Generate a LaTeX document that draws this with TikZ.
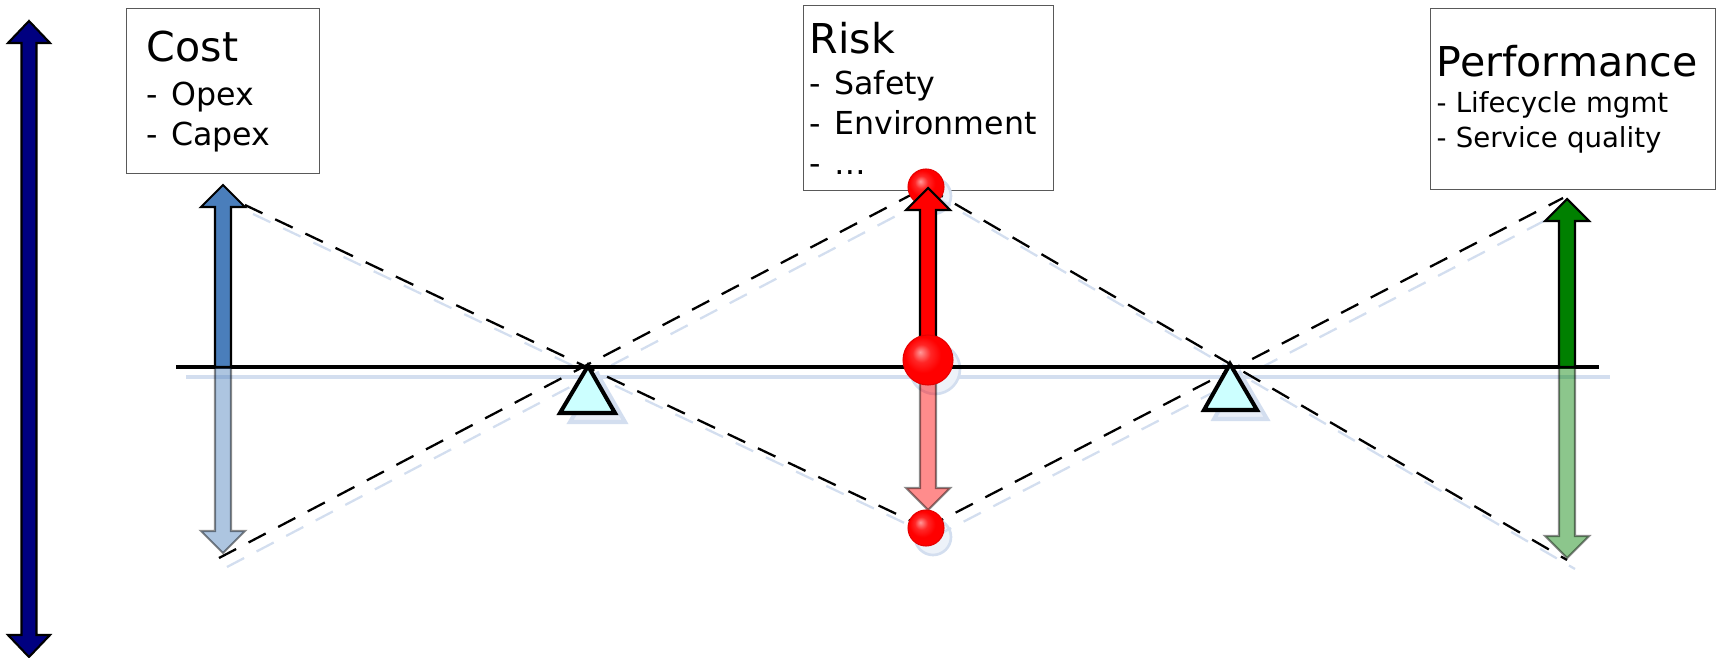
\documentclass[tikz,border=0pt]{standalone}
\usepackage{fontspec}
\setmainfont{DejaVu Sans}
\usetikzlibrary{positioning}
\setlength{\parindent}{0pt}

\definecolor{costblue}{HTML}{4A7EBB}
\definecolor{perfgreen}{HTML}{008000}
\definecolor{riskred}{HTML}{FF0000}
\definecolor{axisnavy}{HTML}{000080}
\definecolor{shadowblue}{HTML}{D3DEEF}
\definecolor{pivotcyan}{HTML}{CCFFFF}
\definecolor{boxgray}{HTML}{595959}

\pgfdeclareradialshading{riskball}{\pgfqpoint{-8bp}{8bp}}{color(0bp)=(riskred!40!white); color(9bp)=(riskred!85!white); color(18bp)=(riskred); color(50bp)=(riskred)}

\newcommand{\px}{0.569pt}
\newcommand{\headword}[1]{{\fontsize{23.4}{28}\selectfont #1}}
\newcommand{\bullitem}{-\hspace{0.42em}}
% fat block arrow: [style]{x}{tail y}{tip y}
\newcommand{\fatarrow}[4][]{%
  \pgfmathsetmacro{\fatbase}{#4+22*((#3>#4)*2-1)}%
  \draw[#1] (#2-8,#3) -- (#2-8,\fatbase) -- (#2-22,\fatbase) -- (#2,#4)
    -- (#2+22,\fatbase) -- (#2+8,\fatbase) -- (#2+8,#3) -- cycle;}

\begin{document}
\begin{tikzpicture}[x=\px, y=-\px]
        % Define styles
        \tikzstyle{textbox} = [rectangle, draw=boxgray, line width=0.8pt, anchor=north west, inner sep=0pt, align=left, font=\fontsize{18}{22.8}\selectfont]
        \tikzstyle{uparrow} = [draw=black, line width=1.2pt, line join=miter]
        \tikzstyle{downarrow} = [draw=black, line width=1.2pt, line join=miter, opacity=0.45]
        \tikzstyle{lever} = [line width=1.3pt, dash pattern=on 11pt off 8pt]
        \tikzstyle{levershadow} = [lever, draw=shadowblue, transform canvas={shift={(8,9)}}]
        \tikzstyle{ball} = [circle, shading=riskball, draw=riskred!90!black, line width=0.6pt, inner sep=0pt]
        \tikzstyle{ballshadow} = [draw=shadowblue, fill=shadowblue!40, line width=1.5pt]
        \tikzstyle{pivot} = [draw=black, fill=pivotcyan, line width=2.3pt, line join=miter]
        \tikzstyle{pivotshadow} = [draw=shadowblue, fill=shadowblue!50, line width=2.3pt, line join=miter]

        \useasboundingbox (0,0) rectangle (1717,658);

        % Boxes
        \node[textbox, minimum width=193*\px, minimum height=165*\px, text width=153*\px] (cost) at (126,8)
            {\headword{Cost}\\[2.2pt]\bullitem Opex\\\bullitem Capex};
        \node[textbox, minimum width=250*\px, minimum height=185*\px, text width=238*\px] (risk) at (803,5)
            {\headword{Risk}\\[0.5pt]\bullitem Safety\\\bullitem Environment\\\bullitem …};
        \node[textbox, minimum width=285*\px, minimum height=181*\px, text width=273*\px, font=\fontsize{15.7}{20.2}\selectfont] (perf) at (1430,8)
            {\headword{Performance}\\[0.3pt]- Lifecycle mgmt\\- Service quality};

        % Lever ends and pivots
        \coordinate (costhead) at (245,205);
        \coordinate (costfoot) at (219,558);
        \coordinate (riskhead) at (926,187);
        \coordinate (riskfoot) at (926,528);
        \coordinate (perfhead) at (1563,198);
        \coordinate (perffoot) at (1567,560);
        \coordinate (pivotl) at (588,366);
        \coordinate (pivotr) at (1230,364);

        % Shadows
        \draw[shadowblue, line width=2.8pt] (186,377) -- (1610,377);
        \draw[pivotshadow] (598,375) -- ++(-28,47) -- ++(55,0) -- cycle;
        \draw[pivotshadow] (1240,373) -- ++(-26,46) -- ++(53,0) -- cycle;
        \draw[ballshadow] (935,369) circle (25);
        \draw[ballshadow] (933,196) circle (18);
        \draw[ballshadow] (933,537) circle (18);
        \draw[levershadow] (costhead) -- (riskfoot);
        \draw[levershadow] (costfoot) -- (riskhead);
        \draw[levershadow] (riskhead) -- (perffoot);
        \draw[levershadow] (riskfoot) -- (perfhead);

        % Lever lines
        \draw[lever] (costhead) -- (riskfoot);
        \draw[lever] (costfoot) -- (riskhead);
        \draw[lever] (riskhead) -- (perffoot);
        \draw[lever] (riskfoot) -- (perfhead);

        % Beam and pivots
        \draw[line width=2.8pt] (176,367) -- (1599,367);
        \draw[pivot] (pivotl) -- ++(-28,47) -- ++(55,0) -- cycle;
        \draw[pivot] (pivotr) -- ++(-26,46) -- ++(53,0) -- cycle;

        % Axis arrow
        \draw[uparrow, fill=axisnavy] (21.5,43) -- (8,43) -- (29,21) -- (50,43) -- (36.5,43) -- (36.5,635)
            -- (50,635) -- (29,657) -- (8,635) -- (21.5,635) -- cycle;

        % Top ball
        \node[ball, minimum size=36*\px] (riskheadball) at (riskhead) {};

        % Arrows
        \fatarrow[downarrow, fill=costblue]{223}{367}{553}
        \fatarrow[uparrow, fill=costblue]{223}{367}{185}
        \fatarrow[downarrow, fill=riskred]{928}{360}{510}
        \fatarrow[uparrow, fill=riskred]{928}{360}{188}
        \fatarrow[downarrow, fill=perfgreen]{1567}{367}{558}
        \fatarrow[uparrow, fill=perfgreen]{1567}{367}{199}

        % Balls
        \node[ball, minimum size=50*\px] (riskmidball) at (928,360) {};
        \node[ball, minimum size=36*\px] (riskfootball) at (riskfoot) {};

    \end{tikzpicture}
\end{document}
